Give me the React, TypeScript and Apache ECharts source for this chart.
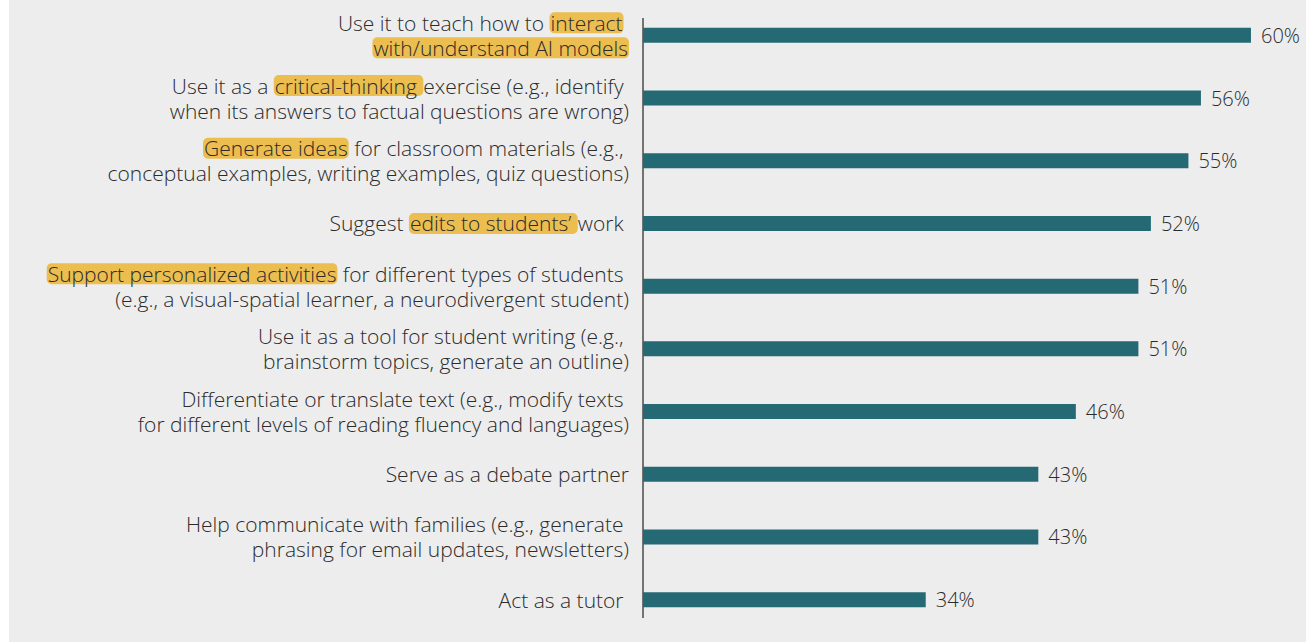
import React, { useEffect, useRef } from "react";
import * as echarts from "echarts";

// Category labels: "\n" = line break, [..] = highlighted words
const categoryLabels: string[] = [
  "Use it to teach how to [interact]\u00a0\n[with/understand AI models]",
  "Use it as a [critical-thinking\u00a0]exercise (e.g., identify\u00a0\nwhen its answers to factual questions are wrong)",
  "[Generate ideas] for classroom materials (e.g.,\u00a0\nconceptual examples, writing examples, quiz questions)",
  "Suggest [edits to students’\u00a0]work\u00a0",
  "[Support personalized activities] for different types of students\u00a0\n(e.g., a visual-spatial learner, a neurodivergent student)",
  "Use it as a tool for student writing (e.g.,\u00a0\nbrainstorm topics, generate an outline)",
  "Differentiate or translate text (e.g., modify texts\u00a0\nfor different levels of reading fluency and languages)",
  "Serve as a debate partner",
  "Help communicate with families (e.g., generate\u00a0\nphrasing for email updates, newsletters)",
  "Act as a tutor\u00a0",
];

const values: number[] = [60, 56, 55, 52, 51, 51, 46, 43, 43, 34];

const LABEL_FONT = "'Open Sans', 'Noto Sans', sans-serif";
const VALUE_FONT = "'Open Sans', 'Noto Sans', sans-serif";

function toRich(label: string): string {
  return label
    .split("\n")
    .map((line) =>
      line.replace(/\[([^\]]*)\]|([^\[]+)/g, (_m, hl, plain) =>
        hl !== undefined ? `{hl|${hl}}` : `{n|${plain}}`
      )
    )
    .join("\n");
}

export default function App() {
  const ref = useRef<HTMLDivElement>(null);

  useEffect(() => {
    if (!ref.current) return;
    const chart = echarts.init(ref.current, undefined, { renderer: "svg" });
    const textBase = {
      fontSize: 21,
      fontFamily: LABEL_FONT,
      fontWeight: 300 as any,
      color: "#2b2b2b",
      lineHeight: 25,
    };
    chart.setOption({
      animation: false,
      backgroundColor: "#ededed",
      grid: { left: 643, right: 30, top: 4, bottom: 11, containLabel: false },
      xAxis: {
        type: "value",
        min: 11.4,
        max: 62,
        show: false,
      },
      yAxis: {
        type: "category",
        inverse: true,
        data: categoryLabels,
        axisLine: { show: false },
        axisTick: { show: false },
        splitLine: { show: false },
        axisLabel: {
          interval: 0,
          margin: 14,
          align: "right",
          formatter: (v: string) => toRich(v),
          rich: {
            n: { ...textBase },
            hl: {
              ...textBase,
              backgroundColor: "#ecbd4f",
              borderRadius: 5,
              padding: [0, 1],
            },
          },
        },
      },
      series: [
        {
          type: "bar",
          data: values,
          barWidth: 15,
          itemStyle: { color: "#256974" },
          label: {
            show: true,
            position: "right",
            distance: 10,
            formatter: "{c}%",
            fontSize: 20,
            fontWeight: 300,
            fontFamily: VALUE_FONT,
            color: "#2b2b2b",
          },
        },
      ],
      graphic: [
        {
          type: "rect",
          shape: { x: 0, y: 0, width: 9, height: 642 },
          style: { fill: "#ffffff" },
          silent: true,
        },
        {
          type: "line",
          shape: { x1: 643, y1: 18, x2: 643, y2: 618 },
          style: { stroke: "#4a4a4a", lineWidth: 1.5 },
          silent: true,
        },
      ],
    });
    return () => chart.dispose();
  }, []);

  return (
    <div
      style={{
        position: "fixed",
        left: 0,
        top: 0,
        width: 1306,
        height: 642,
        background: "#ffffff",
      }}
    >
      <div ref={ref} style={{ width: 1306, height: 642 }} />
    </div>
  );
}
